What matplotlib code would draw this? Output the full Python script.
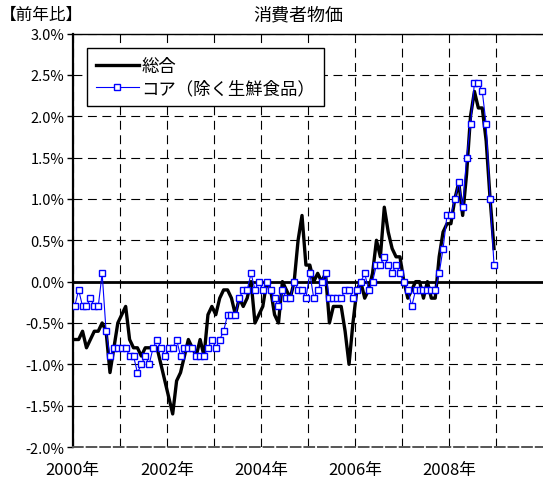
import matplotlib
matplotlib.use('Agg')
import matplotlib.pyplot as plt
import numpy as np

plt.rcParams['font.family'] = ['Noto Sans CJK JP', 'DejaVu Sans']

# monthly, Jan 2000 .. Dec 2008, % change from a year earlier
headline = [
    -0.7, -0.7, -0.6, -0.8, -0.7, -0.6, -0.6, -0.5, -0.6, -1.1, -0.8, -0.5,  # 2000
    -0.4, -0.3, -0.7, -0.8, -0.8, -0.9, -0.8, -0.8, -0.8, -0.8, -1.0, -1.2,  # 2001
    -1.4, -1.6, -1.2, -1.1, -0.9, -0.7, -0.8, -0.9, -0.7, -0.9, -0.4, -0.3,  # 2002
    -0.4, -0.2, -0.1, -0.1, -0.2, -0.4, -0.2, -0.3, -0.2, 0.0, -0.5, -0.4,   # 2003
    -0.3, 0.0, -0.1, -0.4, -0.5, 0.0, -0.1, -0.2, 0.0, 0.5, 0.8, 0.2,        # 2004
    0.2, 0.0, 0.1, 0.0, 0.1, -0.5, -0.3, -0.3, -0.3, -0.6, -1.0, -0.5,       # 2005
    -0.1, 0.0, -0.2, -0.1, 0.1, 0.5, 0.3, 0.9, 0.6, 0.4, 0.3, 0.3,           # 2006
    0.0, -0.2, -0.1, 0.0, 0.0, -0.2, 0.0, -0.2, -0.2, 0.3, 0.6, 0.7,         # 2007
    0.7, 1.0, 1.2, 0.8, 1.3, 2.0, 2.3, 2.1, 2.1, 1.7, 1.0, 0.4,              # 2008
]
core = [
    -0.3, -0.1, -0.3, -0.3, -0.2, -0.3, -0.3, 0.1, -0.6, -0.9, -0.8, -0.8,   # 2000
    -0.8, -0.8, -0.9, -0.9, -1.1, -1.0, -0.9, -1.0, -0.8, -0.7, -0.8, -0.9,  # 2001
    -0.8, -0.8, -0.7, -0.9, -0.8, -0.8, -0.8, -0.9, -0.9, -0.9, -0.8, -0.7,  # 2002
    -0.8, -0.7, -0.6, -0.4, -0.4, -0.4, -0.2, -0.1, -0.1, 0.1, -0.1, 0.0,    # 2003
    -0.1, 0.0, -0.1, -0.2, -0.3, -0.1, -0.2, -0.2, 0.0, -0.1, -0.1, -0.2,    # 2004
    0.1, -0.2, -0.1, 0.0, 0.1, -0.2, -0.2, -0.2, -0.2, -0.1, -0.1, -0.2,     # 2005
    -0.1, 0.0, 0.1, -0.1, 0.0, 0.2, 0.2, 0.3, 0.2, 0.1, 0.2, 0.1,            # 2006
    0.0, -0.1, -0.3, -0.1, -0.1, -0.1, -0.1, -0.1, -0.1, 0.1, 0.4, 0.8,      # 2007
    0.8, 1.0, 1.2, 0.9, 1.5, 1.9, 2.4, 2.4, 2.3, 1.9, 1.0, 0.2,              # 2008
]
years = list(range(2000, 2010))
year_labels = ['2000年', '', '2002年', '', '2004年', '', '2006年', '', '2008年', '']
y_ticks = [3.0, 2.5, 2.0, 1.5, 1.0, 0.5, 0.0, -0.5, -1.0, -1.5, -2.0]
y_labels = ['3.0%', '2.5%', '2.0%', '1.5%', '1.0%', '0.5%', '0.0%',
            '-0.5%', '-1.0%', '-1.5%', '-2.0%']

fig = plt.figure(figsize=(5.43, 4.89), dpi=100)
ax = fig.add_axes([0.134, 0.0838, 0.866, 0.8456])

x = np.arange(len(headline)) + 0.5  # points sit in the middle of each month
ax.plot(x, headline, color='black', lw=2.4, label='総合', zorder=3)
ax.plot(x, core, color='#0000ff', lw=0.8, marker='s', markersize=4.3,
        markerfacecolor='white', markeredgecolor='#0000ff', markeredgewidth=1.0,
        label='コア（除く生鮮食品）', zorder=4)
ax.axhline(0, color='black', lw=2, zorder=2)

ax.set_xlim(0, 120)
ax.set_ylim(-2.0, 3.0)
ax.set_xticks([(y - 2000) * 12 for y in years])
ax.set_xticklabels(year_labels, fontsize=12)
ax.set_yticks(y_ticks)
ax.set_yticklabels(y_labels, fontsize=10.5)
ax.tick_params(axis='x', length=0, pad=10)
ax.tick_params(axis='y', direction='out', length=4, width=1, pad=2)

ax.grid(True, color='black', lw=0.8, linestyle=(0, (8, 5)))
ax.spines['right'].set_visible(False)
ax.spines['left'].set_linewidth(1.6)
ax.spines['top'].set_linewidth(1.0)
ax.spines['bottom'].set_color('#555555')
ax.spines['bottom'].set_linestyle((0, (5, 2)))
ax.spines['bottom'].set_linewidth(1.4)

leg = ax.legend(loc='upper left', bbox_to_anchor=(0.03, 0.965), borderaxespad=0,
                fancybox=False, edgecolor='black', framealpha=1, fontsize=12.5,
                handlelength=2.5, handletextpad=0.15, borderpad=0.5,
                labelspacing=0.25)
leg.get_frame().set_linewidth(1.0)

fig.text(0.549, 0.969, '消費者物価', ha='center', va='center', fontsize=13)
fig.text(0.0, 0.969, '【前年比】', ha='left', va='center', fontsize=12)

fig.savefig('out.png', dpi=100)
